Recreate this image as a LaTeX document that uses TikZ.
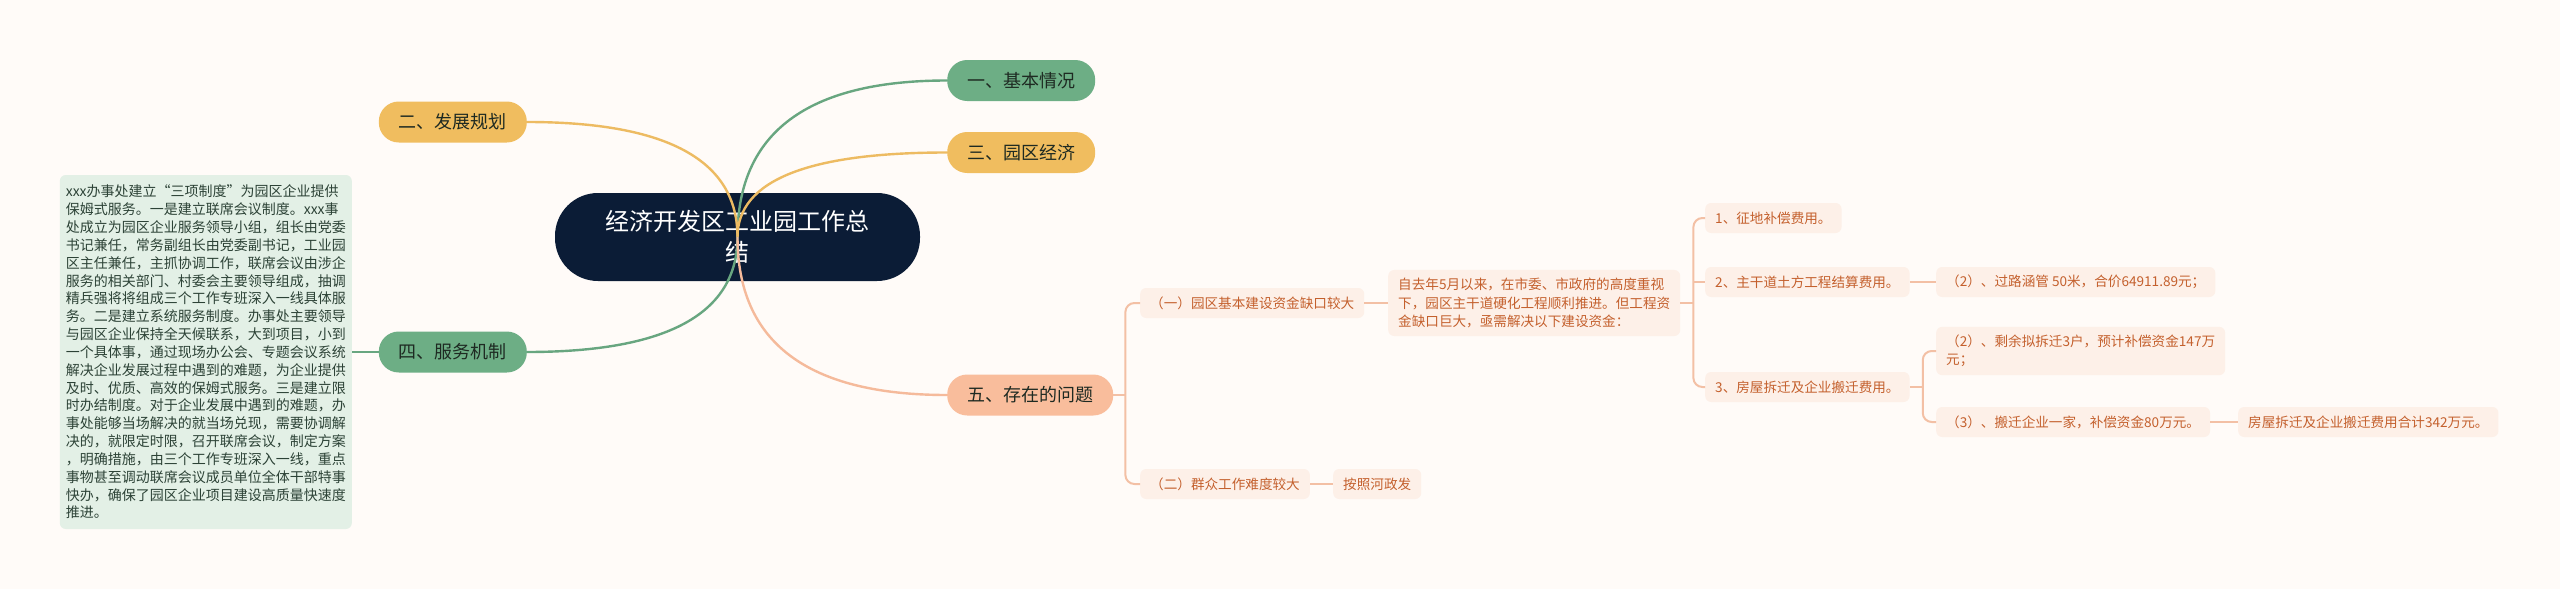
\documentclass[tikz,border=0pt]{standalone}
\usepackage{fontspec}
\setmainfont{Noto Sans CJK SC}
\usepackage{xcolor}
\usetikzlibrary{calc}
\definecolor{paper}{HTML}{FFFBF8}
\definecolor{navy}{HTML}{0B1C36}
\definecolor{sage}{HTML}{6DAE85}
\definecolor{sageline}{HTML}{68A680}
\definecolor{honey}{HTML}{F0BD5F}
\definecolor{honeyline}{HTML}{EDBB62}
\definecolor{peach}{HTML}{F9BD9C}
\definecolor{peachline}{HTML}{F5BA9B}
\definecolor{twigline}{HTML}{F3C0A5}
\definecolor{leaf}{HTML}{FDF0E8}
\definecolor{leafink}{HTML}{C4602D}
\definecolor{mint}{HTML}{E3F0E6}
\definecolor{mintink}{HTML}{2C4236}
\definecolor{ink}{HTML}{1E2A22}
\tikzset{
  rootbox/.style = {fill=navy, text=white, rounded corners=43pt, minimum width=365pt, minimum height=88pt, align=center, inner sep=0pt, font=\fontsize{24}{31}\selectfont},
  topic/.style   = {rounded corners=20pt, minimum height=41pt, inner xsep=20pt, inner ysep=0pt, font=\fontsize{18}{22}\selectfont\color{ink}},
  leafbox/.style = {fill=leaf, rounded corners=6pt, minimum height=30pt, inner xsep=10pt, inner ysep=8pt, align=left, font=\fontsize{13.6}{18.5}\selectfont\color{leafink}},
  notebox/.style = {fill=mint, rounded corners=6pt, minimum height=354pt, inner xsep=6pt, align=left, font=\fontsize{14}{17.83}\selectfont\color{mintink}},
  branch/.style  = {line width=2.4pt, to path={.. controls ($(\tikztostart)!2/3!(\tikztostart |- \tikztotarget)$) and ($(\tikztotarget)!2/3!(\tikztostart |- \tikztotarget)$) .. (\tikztotarget)}},
  twig/.style    = {draw=twigline, line width=2pt, rounded corners=9pt},
}
\begin{document}
\begin{tikzpicture}[x=1pt,y=-1pt]
\path[use as bounding box, fill=paper] (0,0) rectangle (2560,589);

% ---- main topics --------------------------------------------------------
\node[topic, fill=sage,  anchor=west] (n1) at (947,80.5) {一、基本情况};
\node[topic, fill=honey, anchor=east] (n2) at (527,122) {二、发展规划};
\node[topic, fill=honey, anchor=west] (n3) at (947,152.5) {三、园区经济};
\node[topic, fill=sage,  anchor=east] (n4) at (527,352) {四、服务机制};
\node[topic, fill=peach, anchor=west] (n5) at (947,395) {五、存在的问题};

% ---- the note under 四 ---------------------------------------------------
\node[notebox, anchor=east] (note) at (352,352) {xxx办事处建立“三项制度”为园区企业提供\\保姆式服务。一是建立联席会议制度。xxx事\\处成立为园区企业服务领导小组，组长由党委\\书记兼任，常务副组长由党委副书记，工业园\\区主任兼任，主抓协调工作，联席会议由涉企\\服务的相关部门、村委会主要领导组成，抽调\\精兵强将将组成三个工作专班深入一线具体服\\务。二是建立系统服务制度。办事处主要领导\\与园区企业保持全天候联系，大到项目，小到\\一个具体事，通过现场办公会、专题会议系统\\解决企业发展过程中遇到的难题，为企业提供\\及时、优质、高效的保姆式服务。三是建立限\\时办结制度。对于企业发展中遇到的难题，办\\事处能够当场解决的就当场兑现，需要协调解\\决的，就限定时限，召开联席会议，制定方案\\，明确措施，由三个工作专班深入一线，重点\\事物甚至调动联席会议成员单位全体干部特事\\快办，确保了园区企业项目建设高质量快速度\\推进。};
\draw[draw=sageline, line width=2.4pt] (note.east) -- (n4.west);

% ---- the root and its branches ------------------------------------------
\node[rootbox] (root) at (737.5,237) {经济开发区工业园工作总\\结};
\draw[branch, draw=sageline]  (root.center) to (n1.west);
\draw[branch, draw=honeyline] (root.center) to (n2.east);
\draw[branch, draw=honeyline] (root.center) to (n3.west);
\draw[branch, draw=sageline]  (root.center) to (n4.east);
\draw[branch, draw=peachline] (root.center) to (n5.west);

% ---- 五: the problems -----------------------------------------------------
\node[leafbox, anchor=west] (a1) at (1140,303) {（一）园区基本建设资金缺口较大};
\node[leafbox, anchor=west] (a2) at (1140,484) {（二）群众工作难度较大};
\node[leafbox, anchor=west] (b1) at (1388,303) {自去年5月以来，在市委、市政府的高度重视\\下，园区主干道硬化工程顺利推进。但工程资\\金缺口巨大，亟需解决以下建设资金：};
\node[leafbox, anchor=west] (b2) at (1333,484) {按照河政发};
\coordinate (t5) at ($(n5.east)+(12,0)$);
\draw[twig] (n5.east) -- (t5);
\draw[twig] (a1.west) -| (t5) |- (a2.west);
\draw[twig] (a1.east) -- (b1.west);
\draw[twig] (a2.east) -- (b2.west);

% ---- the funds ------------------------------------------------------------
\node[leafbox, anchor=west] (c1) at (1705,218) {1、征地补偿费用。};
\node[leafbox, anchor=west] (c2) at (1705,282) {2、主干道土方工程结算费用。};
\node[leafbox, anchor=west] (c3) at (1705,387) {3、房屋拆迁及企业搬迁费用。};
\coordinate (tb) at ($(b1.east)+(13,0)$);
\draw[twig] (b1.east) -- (tb);
\draw[twig] (c1.west) -| (tb) |- (c3.west);
\draw[twig] (tb |- c2.west) -- (c2.west);

\node[leafbox, anchor=west] (d1) at (1936,282) {（2）、过路涵管 50米，合价64911.89元；};
\node[leafbox, anchor=west] (d2) at (1936,351) {（2）、剩余拟拆迁3户，预计补偿资金147万\\元；};
\node[leafbox, anchor=west] (d3) at (1936,422) {（3）、搬迁企业一家，补偿资金80万元。};
\node[leafbox, anchor=west] (e1) at (2238,422) {房屋拆迁及企业搬迁费用合计342万元。};
\coordinate (tc) at ($(c3.east)+(13,0)$);
\draw[twig] (c2.east) -- (d1.west);
\draw[twig] (c3.east) -- (tc);
\draw[twig] (d2.west) -| (tc) |- (d3.west);
\draw[twig] (d3.east) -- (e1.west);

\end{tikzpicture}
\end{document}
